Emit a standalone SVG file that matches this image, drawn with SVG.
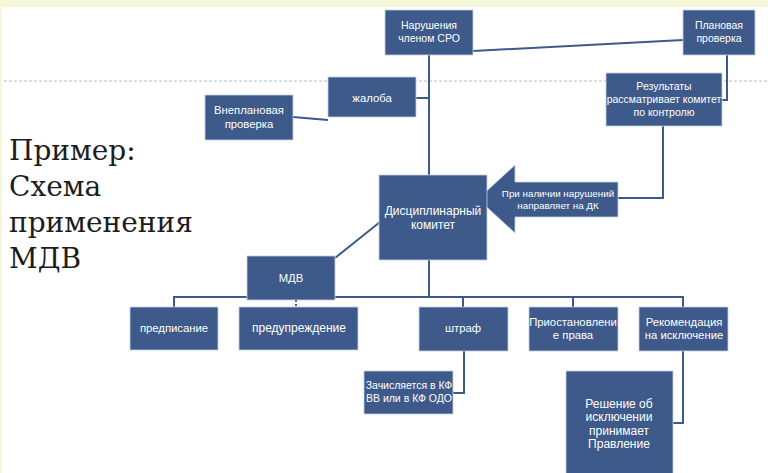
<svg xmlns="http://www.w3.org/2000/svg" width="768" height="473" viewBox="0 0 768 473">
<style>
.b{fill:#3d5a8b;stroke:#c9d1e0;stroke-width:0.8}
.t{fill:#ffffff;font-family:"Liberation Sans",Arial,sans-serif;font-size:10.5px;text-anchor:middle}
.m{font-size:11.3px}
.c{fill:none;stroke:#3d5a8b;stroke-width:2}
.h{fill:#1c1c1c;font-family:"DejaVu Serif","Liberation Serif",serif;font-size:28px}
</style>
<rect width="768" height="473" fill="#ffffff"/>
<rect x="0" y="0" width="768" height="7" fill="#f6f6d8"/>
<rect x="0" y="0" width="2" height="473" fill="#f6f6d8"/>
<line x1="4" y1="81" x2="768" y2="81" stroke="#9aabc4" stroke-width="0.8" stroke-dasharray="3,2"/>
<g id="title">
<text class="h" x="9" y="160">Пример:</text>
<text class="h" x="9" y="196">Схема</text>
<text class="h" x="9" y="232">применения</text>
<text class="h" x="9" y="268">МДВ</text>
</g>
<g id="connectors">
<line class="c" x1="473" y1="51" x2="683" y2="40"/>
<line class="c" x1="429" y1="55" x2="429" y2="175"/>
<line class="c" x1="416" y1="98" x2="429" y2="98"/>
<line class="c" x1="293" y1="117" x2="328" y2="120"/>
<polyline class="c" points="727,55 727,100 722,100"/>
<polyline class="c" points="663,126 663,198 617,198"/>
<line class="c" x1="429" y1="260" x2="429" y2="297"/>
<line class="c" x1="380" y1="222" x2="335" y2="258"/>
<polyline class="c" points="174,307 174,297 683,297 683,307"/>
<line class="c" x1="463" y1="297" x2="463" y2="307"/>
<line class="c" x1="573" y1="297" x2="573" y2="307"/>
<line x1="296" y1="300" x2="296" y2="306" stroke="#3d5a8b" stroke-width="2" stroke-dasharray="2,2"/>
<polyline class="c" points="464,351 464,393 453,393"/>
<polyline class="c" points="683,351 683,423 673,423"/>
</g>
<g id="n1"><rect class="b" x="385" y="10" width="88" height="45"/><text class="t" x="429" y="29">Нарушения</text><text class="t" x="429" y="42">членом СРО</text></g>
<g id="n2"><rect class="b" x="683" y="10" width="72" height="45"/><text class="t" x="719" y="29">Плановая</text><text class="t" x="719" y="42">проверка</text></g>
<g id="n3"><rect class="b" x="328" y="77" width="88" height="40"/><text class="t m" x="372" y="102">жалоба</text></g>
<g id="n4"><rect class="b" x="205" y="95" width="88" height="45"/><text class="t m" x="249" y="114">Внеплановая</text><text class="t m" x="249" y="128">проверка</text></g>
<g id="n5"><rect class="b" x="606" y="73" width="116" height="53"/><text class="t" x="664" y="90">Результаты</text><text class="t" x="664" y="103">рассматривает  комитет</text><text class="t" x="664" y="116">по контролю</text></g>
<g id="n6"><polygon class="b" points="478,199 515,165 515,182 618,182 618,217 515,217 515,233"/><text class="t" x="558" y="197" style="font-size:9.8px">При наличии нарушений</text><text class="t" x="558" y="209" style="font-size:9.8px">направляет на ДК</text></g>
<g id="n7"><rect class="b" x="379" y="175" width="108" height="85"/><text class="t" x="433" y="215" style="font-size:12px">Дисциплинарный</text><text class="t" x="433" y="229" style="font-size:12px">комитет</text></g>
<g id="n8"><rect class="b" x="247" y="256" width="88" height="44"/><text class="t m" x="291" y="282">МДВ</text></g>
<g id="n9"><rect class="b" x="130" y="307" width="88" height="43"/><text class="t m" x="174" y="332">предписание</text></g>
<g id="n10"><rect class="b" x="239" y="307" width="119" height="43"/><text class="t" x="299" y="332" style="font-size:12px">предупреждение</text></g>
<g id="n11"><rect class="b" x="419" y="307" width="89" height="44"/><text class="t m" x="463" y="332">штраф</text></g>
<g id="n12"><rect class="b" x="529" y="307" width="89" height="44"/><text class="t m" x="573" y="326">Приостановлени</text><text class="t m" x="573" y="339">е права</text></g>
<g id="n13"><rect class="b" x="639" y="307" width="89" height="44"/><text class="t m" x="684" y="326">Рекомендация</text><text class="t m" x="684" y="339">на исключение</text></g>
<g id="n14"><rect class="b" x="364" y="371" width="89" height="43"/><text class="t" x="409" y="389">Зачисляется в КФ</text><text class="t" x="409" y="402">ВВ или в КФ ОДО</text></g>
<g id="n15"><rect class="b" x="566" y="371" width="107" height="110"/><text class="t" x="619" y="408" style="font-size:12px">Решение об</text><text class="t" x="619" y="421" style="font-size:12px">исключении</text><text class="t" x="619" y="435" style="font-size:12px">принимает</text><text class="t" x="619" y="448" style="font-size:12px">Правление</text></g>
</svg>
